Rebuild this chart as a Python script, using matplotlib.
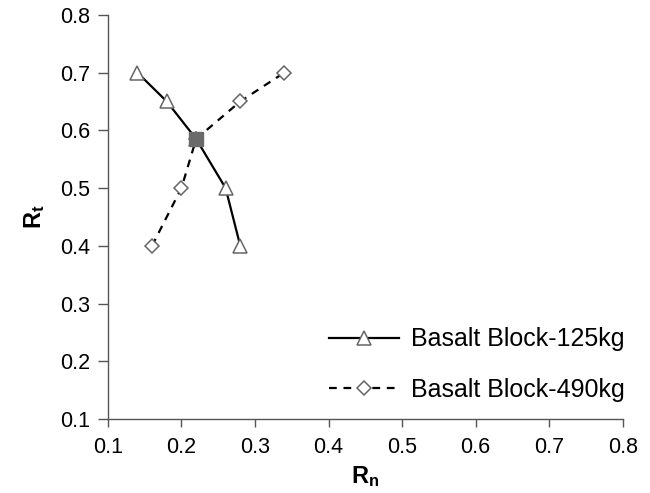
import matplotlib
matplotlib.use("Agg")
import matplotlib.pyplot as plt

plt.rcParams['font.family'] = ['Liberation Sans', 'DejaVu Sans']
plt.rcParams['mathtext.fontset'] = 'custom'
plt.rcParams['mathtext.rm'] = 'Liberation Sans'
plt.rcParams['mathtext.bf'] = 'Liberation Sans:bold'

# data
rn_125 = [0.14, 0.18, 0.22, 0.26, 0.28]
rt_125 = [0.70, 0.65, 0.585, 0.50, 0.40]
rn_490 = [0.16, 0.20, 0.22, 0.28, 0.34]
rt_490 = [0.40, 0.50, 0.585, 0.65, 0.70]
# shared point where both curves cross
rn_common = [0.22]
rt_common = [0.585]

xticks = [0.1, 0.2, 0.3, 0.4, 0.5, 0.6, 0.7, 0.8]
yticks = [0.1, 0.2, 0.3, 0.4, 0.5, 0.6, 0.7, 0.8]

fig = plt.figure(figsize=(6.5, 4.93), dpi=100)
ax = fig.add_axes([0.166, 0.150, 0.792, 0.820])

edge = '#666666'
ax.plot(rn_125, rt_125, '-', color='black', lw=1.6, marker='^',
        markersize=9.5, markerfacecolor='white', markeredgecolor=edge,
        markeredgewidth=1.1, label='Basalt Block-125kg')
ax.plot(rn_490, rt_490, '--', color='black', lw=1.6, dashes=(3.5, 3),
        marker='D', markersize=7, markerfacecolor='white',
        markeredgecolor=edge, markeredgewidth=1.1,
        label='Basalt Block-490kg')
ax.plot(rn_common, rt_common, 's', color='#6a6a6a', markersize=10, zorder=5)

ax.set_xlim(0.1, 0.8)
ax.set_ylim(0.1, 0.8)
ax.set_xticks(xticks)
ax.set_yticks(yticks)
ax.set_xticklabels(['%.1f' % v for v in xticks])
ax.set_yticklabels(['%.1f' % v for v in yticks])
ax.tick_params(direction='out', width=1, color='#555555', labelsize=15.5)
ax.tick_params(axis='x', length=6, pad=7)
ax.tick_params(axis='y', length=7, pad=5.5)

for side in ['top', 'right']:
    ax.spines[side].set_visible(False)
for side in ['left', 'bottom']:
    ax.spines[side].set_color('#555555')
    ax.spines[side].set_linewidth(1)

ax.set_xlabel(r'$\mathbf{R_n}$', fontsize=17, labelpad=4)
ax.set_ylabel(r'$\mathbf{R_t}$', fontsize=17, labelpad=10)

ax.legend(loc='center left', bbox_to_anchor=(0.41, 0.135), frameon=False,
          fontsize=18, handlelength=2.8, handletextpad=0.5,
          labelspacing=1.05, borderaxespad=0)

fig.savefig('out.png', dpi=100)
